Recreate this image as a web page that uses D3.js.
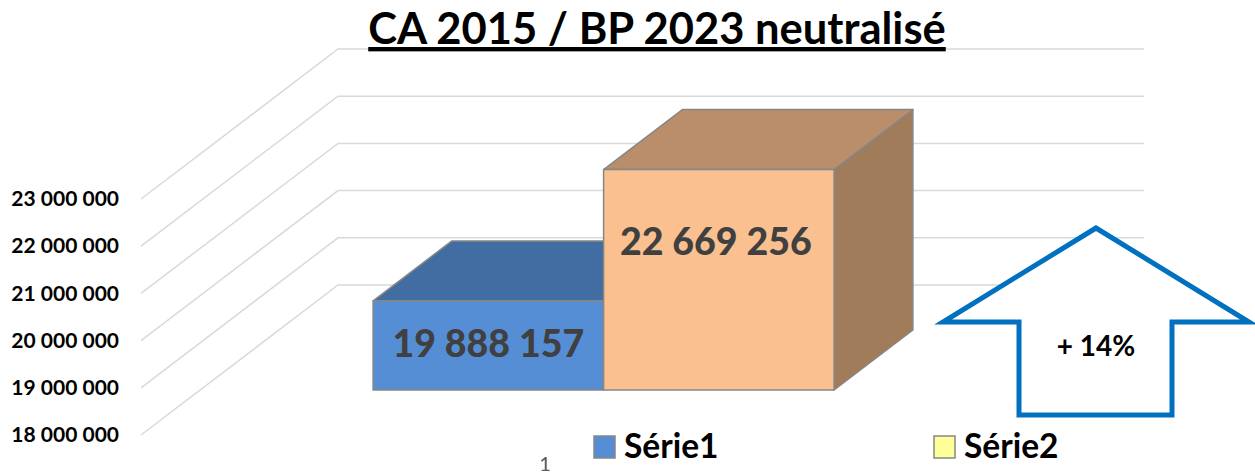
<!DOCTYPE html>
<html lang="fr">
<head>
<meta charset="utf-8">
<script src="https://cdn.jsdelivr.net/npm/d3@7/dist/d3.min.js"></script>
<style>
html,body{margin:0;padding:0;background:#fff;overflow:hidden}
svg{display:block;font-family:Lato,"Noto Sans",sans-serif}
</style>
</head>
<body>
<svg id="chart" width="1255" height="475"></svg>
<script>
const chartTitle = "CA 2015 / BP 2023 neutralisé";
const category = "1";
const seriesNames = ["Série1", "Série2"];
const seriesValues = [19888157, 22669256];
const tickValues = [18000000, 19000000, 20000000, 21000000, 22000000, 23000000];
const variationLabel = "+ 14%";

const frontColors = ["#558ed5", "#fac090"];
const topColors = ["#426da3", "#ba8e6b"];
const sideColors = ["#3a6291", "#a07c5b"];
const legendColors = ["#558ed5", "#ffff99"];

const svg = d3.select("#chart");
const y = d3.scaleLinear().domain([18000000, 23000000]).range([435, 199]);
const depthX = d3.scaleLinear().domain([0, 1]).range([0, 197]);
const depthY = d3.scaleLinear().domain([0, 1]).range([0, -150]);
const x = d3.scaleBand().domain(seriesNames).range([314, 775]);
const floorLeft = 141, floorRight = 947;
const barFront = 0.3, barBack = 0.7;
const spaced = v => d3.format(",")(v).replace(/,/g, " ");

// walls
const grid = svg.append("g").attr("fill", "none").attr("stroke", "#d9d9d9").attr("stroke-width", 1.5);
grid.selectAll("path").data(tickValues).join("path").attr("d", t => {
  const p = d3.path();
  p.moveTo(floorLeft, y(t));
  p.lineTo(floorLeft + depthX(1), y(t) + depthY(1));
  p.lineTo(floorRight + depthX(1), y(t) + depthY(1));
  return p.toString();
});

// value axis
const axis = svg.append("g").attr("transform", "translate(125,0)")
  .call(d3.axisLeft(y).tickValues(tickValues).tickSize(0).tickPadding(6).tickFormat(spaced));
axis.select(".domain").remove();
axis.selectAll("text").attr("fill", "#000").attr("font-size", 21).attr("font-weight", 700)
  .attr("font-family", "Lato,'Noto Sans',sans-serif");

// bars
const pt = (px, py, d) => [px + depthX(d), py + depthY(d)];
const poly = pts => d3.line()(pts) + "Z";
const bars = svg.append("g").attr("stroke", "#868686").attr("stroke-width", 1.5).attr("stroke-linejoin", "round");
seriesNames.forEach((name, i) => {
  const x0 = x(name), x1 = x0 + x.bandwidth();
  const top = y(seriesValues[i]), base = y(18000000);
  const g = bars.append("g");
  g.append("path").attr("fill", sideColors[i]).attr("d", poly([
    pt(x1, top, barFront), pt(x1, top, barBack), pt(x1, base, barBack), pt(x1, base, barFront)]));
  g.append("path").attr("fill", topColors[i]).attr("d", poly([
    pt(x0, top, barFront), pt(x0, top, barBack), pt(x1, top, barBack), pt(x1, top, barFront)]));
  g.append("path").attr("fill", frontColors[i]).attr("d", poly([
    pt(x0, top, barFront), pt(x1, top, barFront), pt(x1, base, barFront), pt(x0, base, barFront)]));
});

// value labels
const labelDy = [56, 85];
const labelDx = [0, -3];
svg.append("g").selectAll("text").data(seriesValues).join("text")
  .attr("x", (v, i) => pt(x(seriesNames[i]) + x.bandwidth() / 2, 0, barFront)[0] + labelDx[i])
  .attr("y", (v, i) => pt(0, y(v), barFront)[1] + labelDy[i])
  .attr("text-anchor", "middle").attr("font-size", 37.5).attr("font-weight", 900)
  .attr("fill", "#404040").text(spaced);

// category label
svg.append("text").attr("x", 545).attr("y", 471).attr("text-anchor", "middle")
  .attr("font-size", 20).attr("fill", "#595959").text(category);

// title
svg.append("text").attr("x", 657).attr("y", 44).attr("text-anchor", "middle")
  .attr("font-size", 43.5).attr("font-weight", 700).attr("fill", "#000")
  .attr("text-decoration", "underline").text(chartTitle);

// legend
const legendX = d3.scaleOrdinal().domain(seriesNames).range([604, 944]);
const legend = svg.append("g").selectAll("g").data(seriesNames).join("g")
  .attr("transform", d => `translate(${legendX(d)},447)`);
legend.append("rect").attr("x", -10).attr("y", -11).attr("width", 21).attr("height", 22)
  .attr("fill", (d, i) => legendColors[i]).attr("stroke", "#868686").attr("stroke-width", 1.5);
legend.append("text").attr("x", 20).attr("y", 11).attr("font-size", 33.5).attr("font-weight", 700)
  .attr("fill", "#000").text(d => d);

// variation arrow
const arrowPts = [[1096, 228], [943, 322], [1019, 322], [1019, 415], [1172, 415], [1172, 322], [1249, 322]];
svg.append("path").attr("d", poly(arrowPts)).attr("fill", "#fff").attr("stroke", "#0070c0").attr("stroke-width", 5);
svg.append("text").attr("x", 1096).attr("y", 356).attr("text-anchor", "middle")
  .attr("font-size", 28).attr("font-weight", 700).attr("fill", "#000").text(variationLabel);
</script>
</body>
</html>
